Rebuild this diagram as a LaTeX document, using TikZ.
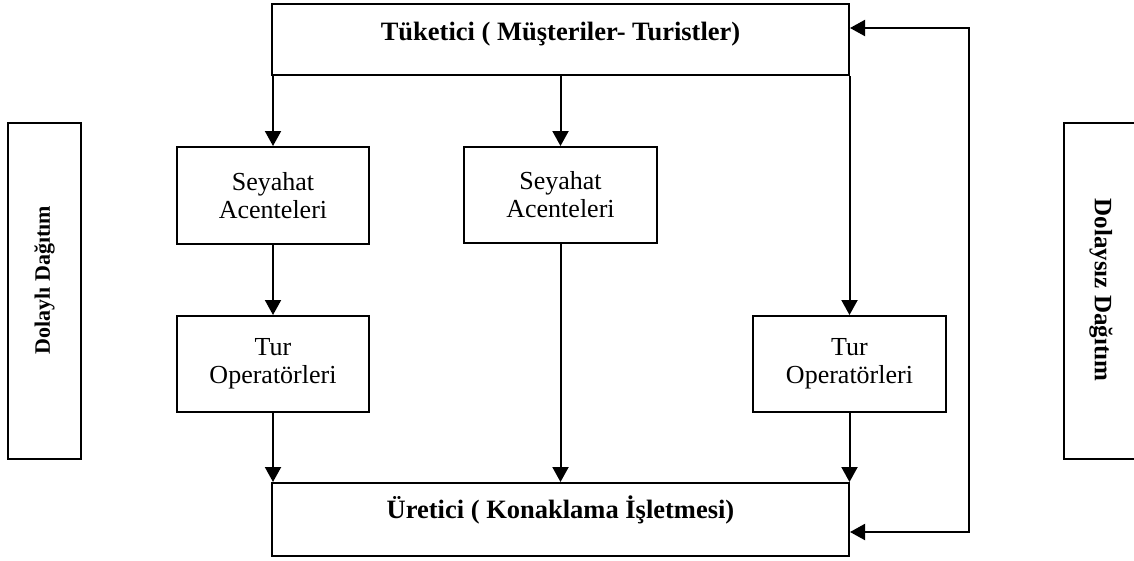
\documentclass[tikz,border=0pt]{standalone}
\usepackage{fontspec}
\setmainfont{Liberation Serif}
\usetikzlibrary{arrows.meta,calc}
\begin{document}
\begin{tikzpicture}[x=1pt,y=-1pt,
  box/.style={draw,line width=2pt,inner sep=0pt,align=center,font=\fontsize{26}{28}\selectfont},
  bigbox/.style={draw,line width=2pt,inner sep=0pt,minimum width=577pt,font=\bfseries\fontsize{26.5}{30}\selectfont},
  sidebox/.style={draw,line width=2pt,inner sep=0pt,minimum width=73pt,minimum height=336pt},
  sidetext/.style={font=\bfseries\fontsize{22}{24}\selectfont,inner sep=0pt},
  arr/.style={line width=2pt,-{Triangle[width=16pt,length=15pt]}},
  darr/.style={line width=2pt,{Triangle[width=16pt,length=15pt]}-{Triangle[width=16pt,length=15pt]}}]
\clip (0,0) rectangle (1134,560);
\fill[white] (0,0) rectangle (1134,560);
% main boxes
\node[bigbox,text height=36pt,text depth=35pt,anchor=base] (tk) at (560.5,40) {Tüketici ( Müşteriler- Turistler)};
\node[bigbox,text height=35pt,text depth=38pt,anchor=base] (ur) at (560.5,518) {Üretici ( Konaklama İşletmesi)};
\node[box,minimum width=192pt,minimum height=97pt] (s1) at (273,195.5) {Seyahat\\Acenteleri};
\node[box,minimum width=193pt,minimum height=96pt] (s2) at (560.5,195) {Seyahat\\Acenteleri};
\node[box,minimum width=192pt,minimum height=96pt] (t1) at (273,364) {Tur\\Operatörleri};
\node[box,minimum width=193pt,minimum height=96pt] (t2) at (849.5,364) {Tur\\Operatörleri};
% side boxes
\node[sidebox] (lb) at (44.5,291) {};
\node[sidetext,rotate=90] (lt) at (44.5,280) {Dolaylı Dağıtım};
\node[sidebox] (rb) at (1100.5,291) {};
\node[sidetext,rotate=-90,font=\bfseries\fontsize{25}{27}\selectfont] (rt) at (1101,290) {Dolaysız Dağıtım};
% connectors
\draw[arr] (tk.south -| s1.north) -- (s1.north);
\draw[arr] (tk.south -| s2.north) -- (s2.north);
\draw[arr] (tk.south -| t2.north) -- (t2.north);
\draw[arr] (s1.south) -- (t1.north);
\draw[arr] (t1.south) -- (ur.north -| t1.south);
\draw[arr] (s2.south) -- (ur.north -| s2.south);
\draw[arr] (t2.south) -- (ur.north -| t2.south);
\coordinate (fbt) at (969,28);
\coordinate (fbb) at (969,532);
\draw[darr] (tk.east |- fbt) -- (fbt) -- (fbb) -- (ur.east |- fbb);
\end{tikzpicture}
\end{document}
